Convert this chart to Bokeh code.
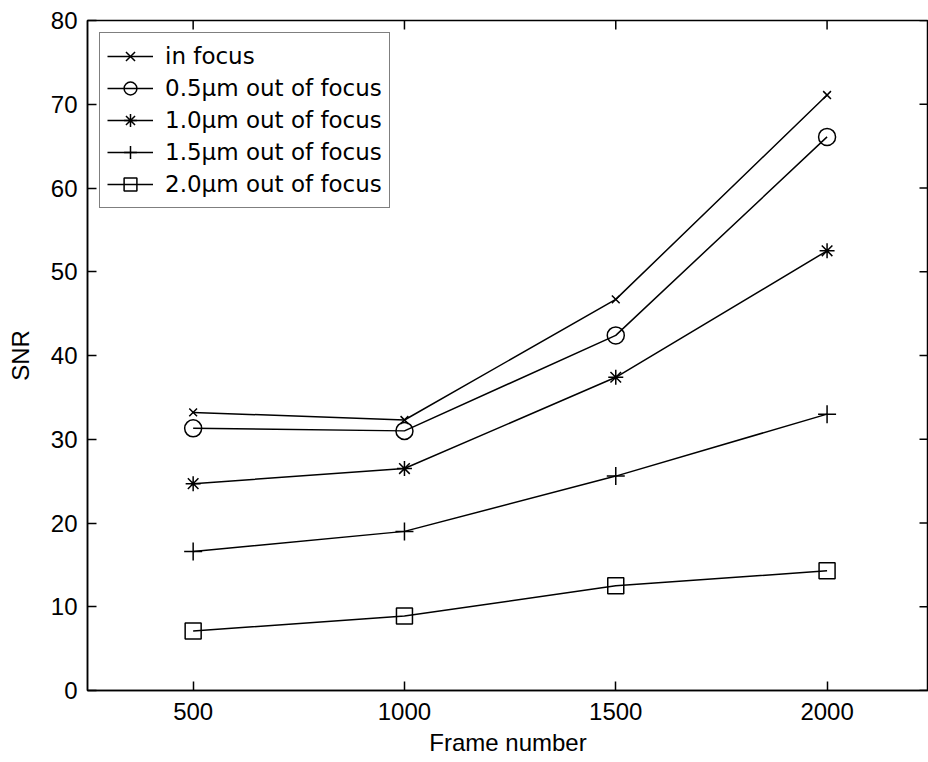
import math
from bokeh.plotting import figure
from bokeh.models import Range1d, Legend, LegendItem, FixedTicker
from bokeh.embed import file_html
from bokeh.resources import INLINE

# ---- data ----
frames = [500, 1000, 1500, 2000]
in_focus = [33.2, 32.3, 46.7, 71.1]
oof_05 = [31.3, 31.0, 42.4, 66.1]
oof_10 = [24.7, 26.5, 37.4, 52.5]
oof_15 = [16.6, 19.0, 25.6, 33.0]
oof_20 = [7.1, 8.9, 12.5, 14.3]
series_labels = ["in focus", "0.5\u00b5m out of focus", "1.0\u00b5m out of focus",
                 "1.5\u00b5m out of focus", "2.0\u00b5m out of focus"]
x_ticks = [500, 1000, 1500, 2000]
y_ticks = [0, 10, 20, 30, 40, 50, 60, 70, 80]

FONT = "Liberation Sans"
FS = "24px"
LEG_FONT = "DejaVu Sans"
LEG_FS = "23px"

x_range = Range1d(250, 2240)
y_range = Range1d(0, 80)

p = figure(width=928, height=762,
           x_range=x_range, y_range=y_range,
           min_border_left=87, min_border_right=0, min_border_top=20, min_border_bottom=72,
           output_backend="svg", toolbar_location=None,
           x_axis_label="Frame number", y_axis_label="SNR")
p.background_fill_color = "white"
p.border_fill_color = "white"
p.outline_line_color = "black"
p.outline_line_width = 1.5
p.xgrid.visible = False
p.ygrid.visible = False

p.xaxis.ticker = FixedTicker(ticks=x_ticks)
p.yaxis.ticker = FixedTicker(ticks=y_ticks)

for ax in p.axis:
    ax.major_tick_in = 9
    ax.major_tick_out = 0
    ax.minor_tick_in = 0
    ax.minor_tick_out = 0
    ax.axis_line_color = "black"
    ax.axis_line_width = 1.5
    ax.major_tick_line_color = "black"
    ax.major_tick_line_width = 1.5
    ax.major_label_text_font = FONT
    ax.major_label_text_font_size = FS
    ax.major_label_text_color = "black"
    ax.axis_label_text_font = FONT
    ax.axis_label_text_font_size = FS
    ax.axis_label_text_font_style = "normal"
    ax.axis_label_text_color = "black"

p.xaxis.major_label_standoff = 12
p.xaxis.axis_label_standoff = 6
p.yaxis.major_label_standoff = 10
p.yaxis.axis_label_standoff = 14

# box ticks on top and right edges (inward, no labels); half of each dash is clipped by the frame
p.scatter(x_ticks, [y_range.end] * len(x_ticks), marker="dash", angle=math.pi / 2,
          size=18, line_color="black", line_width=1.5)
p.scatter([x_range.end] * len(y_ticks), y_ticks, marker="dash",
          size=18, line_color="black", line_width=1.5)

series = [in_focus, oof_05, oof_10, oof_15, oof_20]
markers = ["x", "circle", "asterisk", "cross", "square"]
sizes = [11, 17, 15, 18, 16]

items = []
for vals, lab, mk, sz in zip(series, series_labels, markers, sizes):
    ln = p.line(frames, vals, line_color="black", line_width=1.5)
    sc = p.scatter(frames, vals, marker=mk, size=sz, line_color="black",
                   fill_color=None, line_width=1.5)
    items.append(LegendItem(label=lab, renderers=[ln, sc]))

legend = Legend(items=items, location="top_left")
legend.margin = 12
legend.padding = 7
legend.spacing = 0
legend.glyph_width = 46
legend.glyph_height = 32
legend.label_height = 32
legend.label_standoff = 12
legend.label_text_font = LEG_FONT
legend.label_text_font_size = LEG_FS
legend.label_text_color = "black"
legend.border_line_color = "black"
legend.border_line_width = 1.5
legend.background_fill_color = "white"
legend.background_fill_alpha = 1.0
p.add_layout(legend, "center")

open("out.html", "w").write(file_html(p, INLINE))
